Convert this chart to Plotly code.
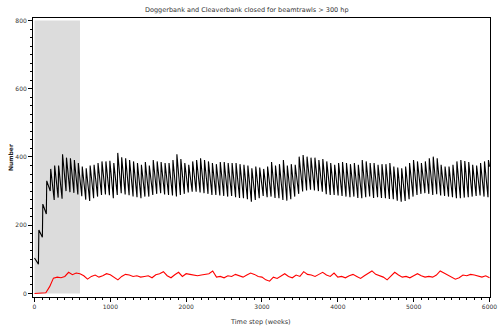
import plotly.graph_objects as go

# ---- data ----
period_weeks = 52
rise_weeks = 6
start_value = 104
end_value = 372

# value just before each yearly jump (k = 1..115)
troughs = [86, 165, 233, 300, 274, 281, 278, 300, 297, 295, 290, 285, 275, 271, 279, 284, 289, 290, 288, 279,
           289, 294, 290, 288, 284, 282, 279, 284,
           284, 289, 292, 294, 290, 289, 287, 284, 289, 292, 296, 298, 298, 296, 294, 292, 289, 289, 287, 286,
           284, 286, 282, 280, 279, 276, 269, 274, 279,
           286, 282, 284, 280, 279, 274, 272, 276, 284, 292, 299, 302, 304, 302, 300, 298, 291, 289, 289, 287,
           286, 284, 282, 284, 280, 279, 282, 284, 280,
           282, 280, 279, 277, 276, 272, 269, 271, 276, 284, 289, 292, 294, 292, 289, 291, 287, 286, 284, 282,
           279, 279, 281, 282, 284, 286, 287, 284, 282]
# value just after each yearly jump
peaks = [186, 262, 330, 365,
         375, 375, 408, 398, 396, 391, 382, 372, 367, 375, 377, 382, 387, 387, 389, 382, 412, 399, 396, 391,
         387, 382, 377, 385,
         375, 391, 387, 385, 382, 382, 391, 408, 394, 382, 377, 387, 391, 396, 391, 387, 382, 379, 385, 385,
         382, 382, 382, 379, 377, 375, 367, 372, 369,
         365, 372, 385, 375, 379, 391, 375, 379, 377, 401, 406, 401, 398, 398, 391, 394, 387, 382, 377, 382,
         385, 382, 379, 382, 377, 391, 387, 382, 382,
         377, 379, 379, 382, 372, 369, 367, 372, 382, 391, 387, 382, 387, 396, 401, 396, 377, 372, 372, 377,
         387, 391, 388, 385, 377, 375, 382, 387, 391]

red_step = 50
red_values = [0, 0, 0, 2, 20, 45, 48, 46, 50, 62, 55, 60, 58, 52, 42, 50, 54, 48, 52, 58,
              55, 48, 40, 50, 56, 54, 50, 52, 48, 50, 52, 46, 55, 58, 64, 52, 46, 55, 62, 50, 58,
              56, 55, 52, 54, 56, 58, 66, 48, 50, 46, 52, 50, 56, 52, 48, 54, 60, 56, 50, 48,
              40, 36, 48, 44, 52, 58, 50, 46, 54, 50, 64, 56, 54, 50, 56, 62, 54, 50, 60, 48,
              50, 46, 52, 56, 50, 44, 52, 60, 66, 56, 52, 48, 40, 52, 62, 54, 48, 50, 46, 52,
              58, 52, 48, 50, 48, 54, 66, 60, 54, 50, 42, 46, 54, 52, 56, 54, 50, 48, 52, 46]

closed_period = [0, 600]
x_ticks = [0, 1000, 2000, 3000, 4000, 5000, 6000]
y_ticks = [0, 200, 400, 600, 800]

title = "Doggerbank and Cleaverbank closed for beamtrawls > 300 hp"
x_title = "Time step (weeks)"
y_title = "Number"

# ---- build black series ----
bx, by = [0], [start_value]
for k, (tr, pk) in enumerate(zip(troughs, peaks), start=1):
    t0 = k * period_weeks
    bx += [t0, t0 + rise_weeks]
    by += [tr, pk]
bx.append(6000)
by.append(end_value)

rx = [i * red_step for i in range(len(red_values))]

fig = go.Figure()
fig.add_shape(type="rect", x0=closed_period[0], x1=closed_period[1], y0=0, y1=800,
              xref="x", yref="y", fillcolor="#dcdcdc", line_width=0, layer="below")
fig.add_trace(go.Scatter(x=bx, y=by, mode="lines", line=dict(color="black", width=1.1),
                         showlegend=False, hoverinfo="skip"))
fig.add_trace(go.Scatter(x=rx, y=red_values, mode="lines", line=dict(color="#ff0000", width=1.1),
                         showlegend=False, hoverinfo="skip"))

tickfont = dict(family="DejaVu Sans", size=6, color="#333333")
fig.update_layout(
    width=501, height=329,
    margin=dict(l=33, r=4, t=18, b=32, pad=0),
    paper_bgcolor="white", plot_bgcolor="white",
    xaxis=dict(range=[-19.5, 6006.5], tickvals=x_ticks, ticks="outside", ticklen=4, tickwidth=1,
               tickcolor="black", showline=True, mirror=True, linecolor="black", linewidth=1,
               showgrid=False, zeroline=False, tickfont=tickfont, ticklabeloverflow="allow",
               minor=dict(dtick=100, ticks="outside", ticklen=2, tickcolor="black", showgrid=False)),
    yaxis=dict(range=[-10.3, 807.3], tickvals=y_ticks, ticks="outside", ticklen=4, tickwidth=1,
               tickcolor="black", showline=True, mirror=True, linecolor="black", linewidth=1,
               showgrid=False, zeroline=False, tickfont=tickfont, ticklabeloverflow="allow",
               minor=dict(dtick=25, ticks="outside", ticklen=2, tickcolor="black", showgrid=False)),
    annotations=[
        dict(text=title, xref="paper", yref="paper", x=(250 - 33) / 464, y=1, yshift=8,
             showarrow=False, xanchor="center", yanchor="middle",
             font=dict(family="DejaVu Sans", size=6.5, color="#333333")),
        dict(text=x_title, xref="paper", yref="paper", x=(264 - 33) / 464, y=0, yshift=-25,
             showarrow=False, xanchor="center", yanchor="middle",
             font=dict(family="DejaVu Sans", size=6.5, color="#333333")),
        dict(text="<b>" + y_title + "</b>", xref="paper", yref="paper", x=0, xshift=-23,
             y=(297 - 158) / 279, textangle=-90, showarrow=False, xanchor="center", yanchor="middle",
             font=dict(family="DejaVu Sans", size=6, color="#222222")),
    ],
)

fig.write_html("out.html")
